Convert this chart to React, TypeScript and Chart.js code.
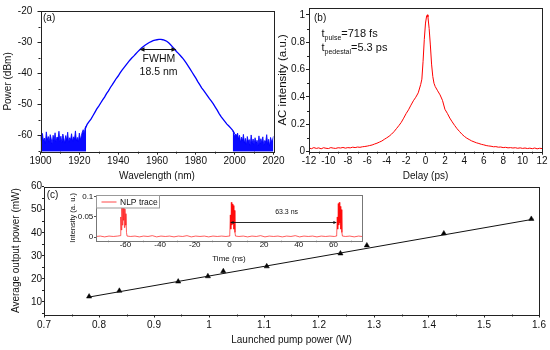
import React, { useEffect, useRef } from 'react';
import { Chart, registerables } from 'chart.js';
Chart.register(...registerables);

const FONT = "'Liberation Sans', Arial, sans-serif";
const TXT = '#111';

// ---------------- panel (a): optical spectrum ----------------
const noiseLeftX = [1900, 1900.5, 1901, 1901.5, 1902, 1902.5, 1903, 1903.5, 1904, 1904.5, 1905, 1905.5, 1906, 1906.5, 1907, 1907.5, 1908, 1908.5, 1909, 1909.5, 1910, 1910.5, 1911, 1911.5, 1912, 1912.5, 1913, 1913.5, 1914, 1914.5, 1915, 1915.5, 1916, 1916.5, 1917, 1917.5, 1918, 1918.5, 1919, 1919.5, 1920, 1920.5, 1921, 1921.5, 1922, 1922.5, 1923, 1923.5];
const noiseLeftY = [-60.2, -62.1, -59.4, -61.8, -60.9, -62.6, -58.9, -61.5, -60.4, -62.2, -59.8, -61.1, -62.8, -60.0, -61.7, -59.2, -62.0, -60.6, -61.3, -58.7, -61.9, -60.3, -62.4, -59.6, -61.0, -62.5, -60.1, -61.6, -59.0, -62.3, -60.8, -61.4, -59.5, -62.0, -60.5, -61.2, -58.6, -61.8, -60.7, -62.1, -59.3, -61.5, -60.2, -59.0, -58.2, -59.5, -57.6, -57.0];
const specX = [1923, 1924, 1925, 1926, 1927, 1928, 1929, 1930, 1931, 1932, 1933, 1934, 1935, 1936, 1937, 1938, 1939, 1940, 1941, 1942, 1943, 1944, 1945, 1946, 1947, 1948, 1949, 1950, 1951, 1952, 1953, 1954, 1955, 1956, 1957, 1958, 1959, 1960, 1961, 1962, 1963, 1964, 1965, 1966, 1967, 1968, 1969, 1970, 1971, 1972, 1973, 1974, 1975, 1976, 1977, 1978, 1979, 1980, 1981, 1982, 1983, 1984, 1985, 1986, 1987, 1988, 1989, 1990, 1991, 1992, 1993, 1994, 1995, 1996, 1997, 1998, 1999, 2000];
const specY = [-58.0, -56.5, -55.6, -54.8, -53.7, -52.6, -51.5, -50.6, -49.6, -48.6, -47.7, -46.6, -45.7, -44.6, -43.7, -42.7, -41.7, -40.9, -39.9, -39.0, -38.2, -37.4, -36.6, -35.8, -35.1, -34.5, -33.8, -33.1, -32.5, -31.9, -31.4, -30.9, -30.5, -30.1, -29.8, -29.5, -29.3, -29.2, -29.1, -29.1, -29.2, -29.4, -29.7, -30.2, -30.8, -31.5, -32.2, -33.0, -33.6, -34.3, -35.0, -35.8, -36.7, -37.6, -38.6, -39.6, -40.6, -41.6, -42.7, -43.7, -44.7, -45.5, -46.4, -47.3, -48.2, -49.0, -49.9, -50.9, -51.9, -53.0, -54.0, -54.8, -55.6, -56.4, -57.0, -57.7, -58.4, -59.5];
const noiseRightX = [1999, 1999.5, 2000, 2000.5, 2001, 2001.5, 2002, 2002.5, 2003, 2003.5, 2004, 2004.5, 2005, 2005.5, 2006, 2006.5, 2007, 2007.5, 2008, 2008.5, 2009, 2009.5, 2010, 2010.5, 2011, 2011.5, 2012, 2012.5, 2013, 2013.5, 2014, 2014.5, 2015, 2015.5, 2016, 2016.5, 2017, 2017.5, 2018, 2018.5, 2019, 2019.5, 2020];
const noiseRightY = [-58.6, -59.2, -60.4, -59.6, -60.1, -59.3, -61.2, -60.0, -62.3, -60.6, -61.8, -59.7, -62.5, -61.0, -63.1, -60.4, -62.0, -61.4, -63.3, -59.9, -62.6, -61.2, -63.0, -60.8, -62.2, -61.6, -63.4, -60.2, -62.8, -61.1, -62.4, -60.5, -63.2, -61.7, -62.1, -59.8, -62.9, -61.3, -63.5, -60.7, -62.0, -61.5, -60.3];
const aXTicks = [1900, 1920, 1940, 1960, 1980, 2000, 2020];
const aXMinor = [1910, 1930, 1950, 1970, 1990, 2010];
const aYTicks = [-60, -50, -40, -30, -20];
const aYMinor = [-65, -55, -45, -35, -25];
const fwhmEnds = [1951, 1970];
const fwhmLevel = -32.2;

// ---------------- panel (b): autocorrelation ----------------
const acX = [-12, -11.75, -11.5, -11.25, -11, -10.75, -10.5, -10.25, -10, -9.75, -9.5, -9.25, -9, -8.75, -8.5, -8.25, -8, -7.75, -7.5, -7.25, -7, -6.75, -6.5, -6.25, -6, -5.75, -5.5, -5.25, -5, -4.75, -4.5, -4.25, -4, -3.75, -3.5, -3.25, -3, -2.75, -2.5, -2.25, -2, -1.75, -1.5, -1.25, -1, -0.75, -0.5, -0.375, -0.25, -0.125, 0, 0.125, 0.2, 0.25, 0.375, 0.5, 0.625, 0.75, 0.875, 1, 1.25, 1.5, 1.75, 2, 2.25, 2.5, 2.75, 3, 3.25, 3.5, 3.75, 4, 4.25, 4.5, 4.75, 5, 5.25, 5.5, 5.75, 6, 6.25, 6.5, 6.75, 7, 7.25, 7.5, 7.75, 8, 8.25, 8.5, 8.75, 9, 9.25, 9.5, 9.75, 10, 10.25, 10.5, 10.75, 11, 11.25, 11.5, 11.75, 12];
const acY = [0.027, 0.022, 0.030, 0.024, 0.028, 0.021, 0.029, 0.025, 0.023, 0.030, 0.026, 0.024, 0.029, 0.027, 0.031, 0.026, 0.030, 0.028, 0.033, 0.030, 0.034, 0.032, 0.036, 0.038, 0.041, 0.045, 0.049, 0.056, 0.062, 0.070, 0.078, 0.090, 0.101, 0.113, 0.128, 0.146, 0.168, 0.190, 0.214, 0.245, 0.278, 0.306, 0.340, 0.372, 0.398, 0.430, 0.490, 0.530, 0.660, 0.820, 0.940, 0.995, 1.0, 0.985, 0.900, 0.780, 0.640, 0.550, 0.500, 0.476, 0.445, 0.415, 0.375, 0.310, 0.280, 0.246, 0.218, 0.192, 0.168, 0.148, 0.128, 0.112, 0.099, 0.089, 0.079, 0.072, 0.065, 0.060, 0.054, 0.050, 0.045, 0.042, 0.040, 0.036, 0.037, 0.033, 0.034, 0.030, 0.032, 0.028, 0.030, 0.027, 0.029, 0.025, 0.028, 0.024, 0.027, 0.023, 0.026, 0.022, 0.027, 0.021, 0.025, 0.023];
const bXTicks = [-12, -10, -8, -6, -4, -2, 0, 2, 4, 6, 8, 10, 12];
const bXMinor = [-11, -9, -7, -5, -3, -1, 1, 3, 5, 7, 9, 11];
const bYTicks = [0, 0.2, 0.4, 0.6, 0.8, 1];
const bYMinor = [0.1, 0.3, 0.5, 0.7, 0.9];

// ---------------- panel (c): output power ----------------
const pumpW = [0.782, 0.837, 0.944, 0.998, 1.026, 1.105, 1.239, 1.287, 1.427, 1.586];
const outputMW = [12.3, 14.8, 18.8, 21.1, 23.3, 25.4, 31.0, 34.5, 39.7, 46.0];
const fitX = [0.78, 1.59];
const fitY = [12.0, 45.9];
const cXTicks = [0.7, 0.8, 0.9, 1, 1.1, 1.2, 1.3, 1.4, 1.5, 1.6];
const cXMinor = [0.75, 0.85, 0.95, 1.05, 1.15, 1.25, 1.35, 1.45, 1.55];
const cYTicks = [10, 20, 30, 40, 50, 60];
const cYMinor = [5, 15, 25, 35, 45, 55];

// ---------------- inset: NLP pulse train ----------------
const traceT = [-77, -74.5, -72, -69.5, -67, -64.5, -63, -62.7, -62.4, -62.1, -61.8, -61.5, -61.2, -60.9, -60.6, -60.3, -60.0, -59.7, -59.4, -59.1, -57, -54.5, -52, -49.5, -47, -44.5, -42, -39.5, -37, -34.5, -32, -29.5, -27, -24.5, -22, -19.5, -17, -14.5, -12, -9.5, -7, -4.5, -2, -0.2, 0.2, 0.5, 0.8, 1.1, 1.4, 1.7, 2.0, 2.3, 2.6, 2.9, 3.2, 3.5, 5.5, 8, 10.5, 13, 15.5, 18, 20.5, 23, 25.5, 28, 30.5, 33, 35.5, 38, 40.5, 43, 45.5, 48, 50.5, 53, 55.5, 58, 60.5, 61.6, 61.9, 62.2, 62.5, 62.8, 63.1, 63.4, 63.7, 64.0, 64.3, 64.6, 64.9, 65.2, 67, 69.5, 72, 74.5, 76.5];
const traceI = [0.002, 0.003, 0.001, 0.003, 0.002, 0.003, 0.004, 0.05, 0.018, 0.079, 0.03, 0.086, 0.042, 0.075, 0.024, 0.07, 0.03, 0.058, 0.012, 0.003, 0.002, 0.003, 0.001, 0.003, 0.002, 0.004, 0.001, 0.003, 0.002, 0.003, 0.001, 0.003, 0.002, 0.004, 0.001, 0.003, 0.002, 0.003, 0.001, 0.003, 0.002, 0.003, 0.002, 0.003, 0.006, 0.055, 0.02, 0.086, 0.03, 0.082, 0.035, 0.078, 0.02, 0.066, 0.012, 0.003, 0.002, 0.003, 0.001, 0.003, 0.002, 0.004, 0.001, 0.003, 0.002, 0.003, 0.001, 0.003, 0.002, 0.004, 0.001, 0.003, 0.002, 0.003, 0.001, 0.003, 0.002, 0.003, 0.002, 0.003, 0.006, 0.05, 0.02, 0.083, 0.03, 0.086, 0.035, 0.076, 0.02, 0.068, 0.012, 0.003, 0.002, 0.003, 0.001, 0.003, 0.002];
const insetXTicks = [-60, -40, -20, 0, 20, 40, 60];
const insetXMinor = [-70, -50, -30, -10, 10, 30, 50, 70];
const insetYTicks = [0, 0.05, 0.1];
const periodEnds = [0.4, 62];
const periodLevel = 0.037;
const periodLabel = '63.3 ns';

// ---------------- helpers ----------------
const pts = (xs: number[], ys: number[]) => xs.map((x, i) => ({ x, y: ys[i] }));

function linAxis(p: any) {
  return {
    type: 'linear',
    position: p.pos,
    min: p.min,
    max: p.max,
    afterBuildTicks: (s: any) => { s.ticks = p.ticks.map((v: number) => ({ value: v })); },
    afterFit: (s: any) => { if (p.pos === 'bottom') s.height = p.size; else s.width = p.size; },
    grid: { display: true, drawOnChartArea: false, drawTicks: true, tickLength: p.tickLen ?? 3, color: p.tickColor ?? '#222', lineWidth: 1 },
    border: { display: false },
    ticks: { padding: p.pad, color: TXT, autoSkip: false, maxRotation: 0, font: { family: FONT, size: p.fs ?? 10, lineHeight: p.lh ?? 1.2 }, callback: (v: any) => String(v) },
    title: { display: true, text: p.title, color: TXT, font: { family: FONT, size: p.tfs ?? 10, lineHeight: p.tlh ?? 1.2 }, padding: p.tpad },
  };
}

function makeDeco(o: { frame: string; minorX: number[]; minorY: number[]; minorLen: number; extra?: (c: any) => void }) {
  return {
    id: 'deco',
    afterDraw(chart: any) {
      const { ctx, chartArea: ca, scales } = chart;
      const xs = scales.x, ys = scales.y;
      ctx.save();
      ctx.strokeStyle = o.frame;
      ctx.lineWidth = 1;
      ctx.beginPath();
      o.minorX.forEach((v) => { const px = Math.round(xs.getPixelForValue(v)) + 0.5; ctx.moveTo(px, ca.bottom); ctx.lineTo(px, ca.bottom + o.minorLen); });
      o.minorY.forEach((v) => { const py = Math.round(ys.getPixelForValue(v)) + 0.5; ctx.moveTo(ca.left, py); ctx.lineTo(ca.left - o.minorLen, py); });
      ctx.stroke();
      const l = Math.round(ca.left) + 0.5, t = Math.round(ca.top) + 0.5;
      ctx.strokeRect(l, t, Math.round(ca.right) - Math.round(ca.left), Math.round(ca.bottom) - Math.round(ca.top));
      ctx.restore();
      if (o.extra) { ctx.save(); o.extra(chart); ctx.restore(); }
    },
  };
}

function hArrow(ctx: any, x1: number, x2: number, y: number, head: number, half: number) {
  ctx.beginPath(); ctx.moveTo(x1 + 1, y); ctx.lineTo(x2 - 1, y); ctx.stroke();
  ctx.beginPath(); ctx.moveTo(x1, y); ctx.lineTo(x1 + head, y - half); ctx.lineTo(x1 + head, y + half); ctx.closePath(); ctx.fill();
  ctx.beginPath(); ctx.moveTo(x2, y); ctx.lineTo(x2 - head, y - half); ctx.lineTo(x2 - head, y + half); ctx.closePath(); ctx.fill();
}

function font(size: number) { return `${size}px ${FONT}`; }

// ---------------- chart factories ----------------
function makeA(): any {
  return {
    type: 'line',
    data: {
      datasets: [
        { data: pts(noiseLeftX, noiseLeftY), borderColor: '#0000ff', backgroundColor: '#0a0aff', borderWidth: 0.8, pointRadius: 0, fill: 'start', tension: 0 },
        { data: pts(noiseRightX, noiseRightY), borderColor: '#0000ff', backgroundColor: '#0a0aff', borderWidth: 0.8, pointRadius: 0, fill: 'start', tension: 0 },
        { data: pts(specX, specY), borderColor: '#0000ff', borderWidth: 1.3, pointRadius: 0, fill: false, tension: 0 },
      ],
    },
    options: {
      animation: false, responsive: false, devicePixelRatio: 1,
      layout: { padding: { left: 0, top: 8.3, right: 16.5, bottom: 0 } },
      plugins: { legend: { display: false }, tooltip: { enabled: false } },
      scales: {
        x: linAxis({ pos: 'bottom', min: 1900, max: 2020, ticks: aXTicks, size: 34.3, pad: 1, title: 'Wavelength (nm)', tpad: { top: 0, bottom: 3.3 } }),
        y: linAxis({ pos: 'left', min: -65.3, max: -20, ticks: aYTicks, size: 40.5, pad: 5.2, title: 'Power (dBm)', tpad: { top: 2.3, bottom: 0 } }),
      },
    },
    plugins: [makeDeco({
      frame: '#222', minorX: aXMinor, minorY: aYMinor, minorLen: 2,
      extra: (chart: any) => {
        const { ctx, chartArea: ca, scales: { x, y } } = chart;
        ctx.fillStyle = TXT; ctx.strokeStyle = '#111'; ctx.lineWidth = 1;
        ctx.font = font(10); ctx.textAlign = 'left'; ctx.textBaseline = 'middle';
        ctx.fillText('(a)', ca.left + 2.5, ca.top + 7);
        const yy = Math.round(y.getPixelForValue(fwhmLevel)) + 0.5;
        hArrow(ctx, x.getPixelForValue(fwhmEnds[0]), x.getPixelForValue(fwhmEnds[1]), yy, 5, 2.2);
        ctx.textAlign = 'center';
        ctx.font = font(10.5);
        ctx.fillText('FWHM', x.getPixelForValue(1961), y.getPixelForValue(-35.5));
        ctx.fillText('18.5 nm', x.getPixelForValue(1960.8), y.getPixelForValue(-39.7));
      },
    })],
  };
}

function makeB(): any {
  return {
    type: 'line',
    data: { datasets: [{ data: pts(acX, acY), borderColor: '#ff0000', borderWidth: 1, pointRadius: 0, fill: false, tension: 0 }] },
    options: {
      animation: false, responsive: false, devicePixelRatio: 1,
      layout: { padding: { left: 0, top: 8, right: 8, bottom: 0 } },
      plugins: { legend: { display: false }, tooltip: { enabled: false } },
      scales: {
        x: linAxis({ pos: 'bottom', min: -12, max: 12, ticks: bXTicks, size: 34.3, pad: 1, title: 'Delay (ps)', tpad: { top: 0, bottom: 3.3 } }),
        y: linAxis({ pos: 'left', min: 0, max: 1.05, ticks: bYTicks, size: 34, pad: 1, tfs: 11.5, title: 'AC intensity (a.u.)', tpad: { top: 1.1, bottom: 0 } }),
      },
    },
    plugins: [makeDeco({
      frame: '#222', minorX: bXMinor, minorY: bYMinor, minorLen: 2,
      extra: (chart: any) => {
        const { ctx, chartArea: ca } = chart;
        ctx.fillStyle = TXT; ctx.textBaseline = 'alphabetic'; ctx.textAlign = 'left';
        ctx.font = font(10);
        ctx.fillText('(b)', ca.left + 5, ca.top + 12.5);
        const sub = (x0: number, base: number, main: string, s: string, rest: string) => {
          let x = x0;
          ctx.font = font(11); ctx.fillText(main, x, base); x += ctx.measureText(main).width;
          ctx.font = font(7); ctx.fillText(s, x, base + 2.5); x += ctx.measureText(s).width;
          ctx.font = font(11); ctx.fillText(rest, x, base);
        };
        sub(ca.left + 12.5, ca.top + 29, 't', 'pulse', '=718 fs');
        sub(ca.left + 12.5, ca.top + 43, 't', 'pedestal', '=5.3 ps');
      },
    })],
  };
}

function makeC(): any {
  return {
    type: 'line',
    data: {
      datasets: [
        { data: pts(fitX, fitY), borderColor: '#111', borderWidth: 1, pointRadius: 0, fill: false, tension: 0 },
        { data: pts(pumpW, outputMW), showLine: false, pointStyle: 'triangle', pointRadius: 3, pointBackgroundColor: '#000', pointBorderColor: '#000', pointBorderWidth: 0.5 },
      ],
    },
    options: {
      animation: false, responsive: false, devicePixelRatio: 1,
      layout: { padding: { left: 0, top: 6.7, right: 11, bottom: 0 } },
      plugins: { legend: { display: false }, tooltip: { enabled: false } },
      scales: {
        x: linAxis({ pos: 'bottom', min: 0.7, max: 1.6, ticks: cXTicks, size: 35.5, pad: 1.5, title: 'Launched pump power (W)', tpad: { top: 0, bottom: 4 } }),
        y: linAxis({ pos: 'left', min: 4.5, max: 60, ticks: cYTicks, size: 44, pad: 0, tickLen: 2, title: 'Average output power (mW)', tpad: { top: 10.7, bottom: 0 } }),
      },
    },
    plugins: [makeDeco({
      frame: '#222', minorX: cXMinor, minorY: cYMinor, minorLen: 2,
      extra: (chart: any) => {
        const { ctx, chartArea: ca } = chart;
        ctx.fillStyle = TXT; ctx.font = font(10); ctx.textAlign = 'left'; ctx.textBaseline = 'middle';
        ctx.fillText('(c)', ca.left + 2.7, ca.top + 8.8);
      },
    })],
  };
}

function makeInset(): any {
  const legendText = 'NLP trace';
  return {
    type: 'line',
    data: { datasets: [{ label: legendText, data: pts(traceT, traceI), borderColor: 'rgba(255,0,0,0.8)', borderWidth: 0.8, pointRadius: 0, fill: false, tension: 0 }] },
    options: {
      animation: false, responsive: false, devicePixelRatio: 1,
      layout: { padding: { left: 0, top: 7, right: 8, bottom: 0 } },
      plugins: { legend: { display: false }, tooltip: { enabled: false } },
      scales: {
        x: linAxis({ pos: 'bottom', min: -77, max: 76.5, ticks: insetXTicks, size: 27.3, pad: -1.7, tickLen: 2, fs: 8, lh: 1, tfs: 8, tlh: 1, tickColor: '#555', title: 'Time (ns)', tpad: { top: 0, bottom: 5.7 } }),
        y: linAxis({ pos: 'left', min: -0.0084, max: 0.104, ticks: insetYTicks, size: 36, pad: 0.7, tickLen: 2, fs: 8, lh: 1, tfs: 7.5, tlh: 1, tickColor: '#555', title: 'Intensity (a. u.)', tpad: { top: 8.75, bottom: 0 } }),
      },
    },
    plugins: [
      {
        id: 'insetBg',
        beforeDatasetsDraw(chart: any) {
          const { ctx, chartArea: ca } = chart;
          ctx.save(); ctx.fillStyle = '#fff'; ctx.fillRect(ca.left, ca.top, ca.right - ca.left, ca.bottom - ca.top); ctx.restore();
        },
      },
      makeDeco({
        frame: '#777', minorX: insetXMinor, minorY: [], minorLen: 1.5,
        extra: (chart: any) => {
          const { ctx, chartArea: ca, scales: { x, y } } = chart;
          ctx.strokeStyle = '#111'; ctx.fillStyle = '#111'; ctx.lineWidth = 0.9;
          const yy = Math.round(y.getPixelForValue(periodLevel)) + 0.5;
          hArrow(ctx, x.getPixelForValue(periodEnds[0]), x.getPixelForValue(periodEnds[1]), yy, 3.5, 1.6);
          ctx.font = font(7); ctx.textAlign = 'center'; ctx.textBaseline = 'middle';
          ctx.fillText(periodLabel, x.getPixelForValue(33), y.getPixelForValue(0.063));
          const lx = Math.round(ca.left) + 0.5, ly = Math.round(ca.top) + 0.5;
          ctx.fillStyle = '#fff'; ctx.fillRect(lx, ly, 63, 12.5);
          ctx.strokeStyle = '#999'; ctx.lineWidth = 1; ctx.strokeRect(lx, ly, 63, 12.5);
          ctx.strokeStyle = 'rgba(255,0,0,0.8)'; ctx.lineWidth = 0.9;
          ctx.beginPath(); ctx.moveTo(lx + 5, ly + 6.5); ctx.lineTo(lx + 20, ly + 6.5); ctx.stroke();
          ctx.fillStyle = TXT; ctx.font = font(8.5); ctx.textAlign = 'left'; ctx.textBaseline = 'middle';
          ctx.fillText(legendText, lx + 23.5, ly + 6.7);
        },
      }),
    ],
  };
}

function ChartBox({ left, top, width, height, make }: { left: number; top: number; width: number; height: number; make: () => any }) {
  const ref = useRef<HTMLCanvasElement>(null);
  useEffect(() => {
    const chart = new Chart(ref.current as HTMLCanvasElement, make());
    return () => chart.destroy();
  }, []);
  return <canvas ref={ref} width={width} height={height} style={{ position: 'absolute', left, top, width, height }} />;
}

export default function App() {
  return (
    <div style={{ position: 'fixed', left: 0, top: 0, width: 550, height: 350, background: '#fff', overflow: 'hidden' }}>
      <ChartBox left={0} top={180} width={550} height={170} make={makeC} />
      <ChartBox left={60} top={188} width={310} height={80} make={makeInset} />
      <ChartBox left={0} top={0} width={290} height={186} make={makeA} />
      <ChartBox left={275} top={0} width={275} height={186} make={makeB} />
    </div>
  );
}
